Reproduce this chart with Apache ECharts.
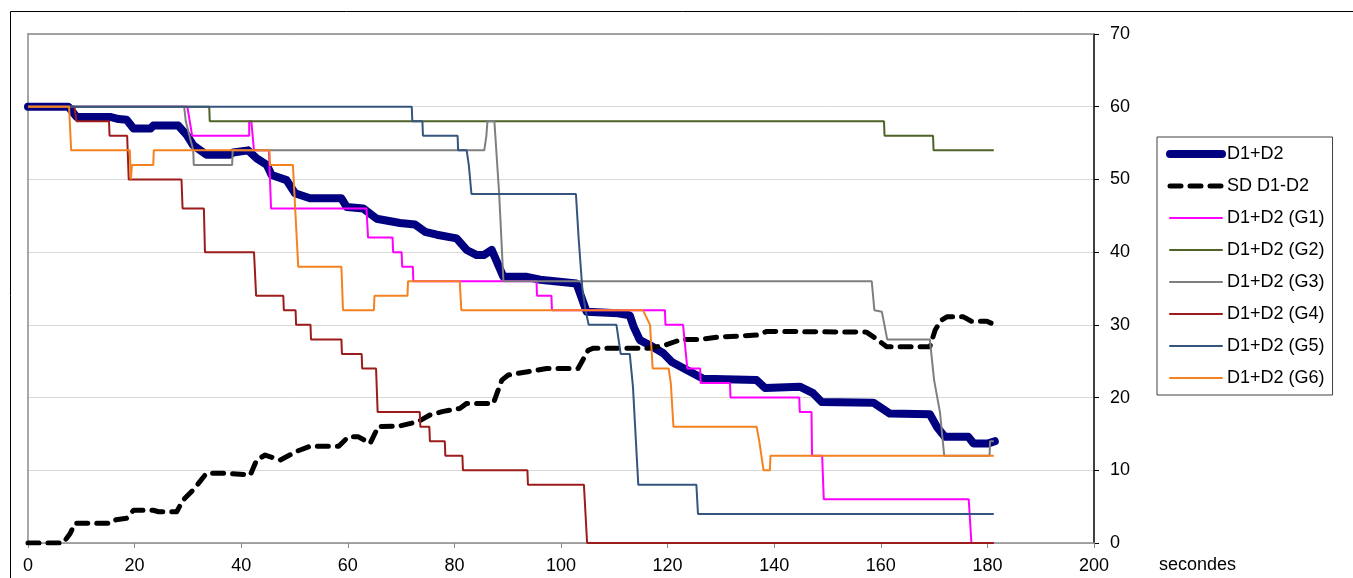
<!DOCTYPE html>
<html>
<head>
<meta charset="utf-8">
<script src="https://cdn.jsdelivr.net/npm/echarts@6/dist/echarts.min.js"></script>
<style>
html,body{margin:0;padding:0;background:#fff;}
#chart{width:1353px;height:578px;}
</style>
</head>
<body>
<div id="chart"></div>
<script>
// ---- Data (x = seconds, y = value) ----
const xTicks = [0, 20, 40, 60, 80, 100, 120, 140, 160, 180, 200];
const yTicks = [0, 10, 20, 30, 40, 50, 60, 70];
const seriesNames = ["D1+D2", "SD D1-D2", "D1+D2 (G1)", "D1+D2 (G2)", "D1+D2 (G3)", "D1+D2 (G4)", "D1+D2 (G5)", "D1+D2 (G6)"];

const d1d2 = [[0,60],[7.6,60],[9.1,58.6],[15.4,58.6],[17,58.3],[18.5,58.2],[19.8,57],[23,57],[23.5,57.4],[28.2,57.4],[29.8,56.1],[31,54.7],[33.5,53.4],[37.9,53.4],[38.5,53.7],[41.3,54],[42.9,52.9],[44.8,52],[45.7,50.6],[48.5,49.9],[50.1,48.1],[52.9,47.4],[58.8,47.4],[59.8,46.2],[62.9,46],[65.4,44.6],[69.8,44],[72.6,43.8],[74.5,42.8],[76.7,42.4],[80.4,41.9],[82.3,40.3],[84.2,39.6],[85.5,39.6],[87,40.3],[89.2,36.6],[93.6,36.6],[96.1,36.2],[102.9,35.7],[104.8,31.8],[110.7,31.6],[112.9,31.3],[113.6,29.8],[114.8,27.9],[116.7,27.2],[119.2,26.1],[120.8,24.9],[123.6,23.8],[126.7,22.6],[136.7,22.4],[138.3,21.3],[144.8,21.5],[147.3,20.6],[148.9,19.4],[158.6,19.3],[161.7,17.8],[169.2,17.7],[170.5,16],[172,14.6],[176.4,14.6],[177.4,13.7],[180.2,13.7],[181.4,14]];

const sdD1D2 = [[0,0],[6.6,0],[7.9,1.3],[8.8,2.7],[15.4,2.7],[16.5,3.2],[18.5,3.4],[19.8,4.5],[23.5,4.5],[24.5,4.3],[27.9,4.3],[29.1,5.9],[31,7.3],[33.5,9.6],[37.3,9.6],[41.7,9.35],[42.9,11.4],[44.5,12.1],[47.3,11.4],[50.4,12.6],[52.9,13.3],[58.3,13.3],[60.1,14.6],[62,14.6],[64.2,13.7],[65.7,16],[69.8,16.1],[73.2,16.7],[75.4,17.6],[77.9,18.1],[81,18.5],[82.3,19.2],[87.3,19.2],[88.9,22.4],[90.1,23.1],[94.2,23.6],[97.3,24],[103.2,24],[105.1,26.5],[106.1,26.8],[116.7,26.8],[119.5,27.2],[122.6,28],[126.1,28],[129.2,28.3],[136.7,28.6],[138.6,29.1],[157.3,29],[158.9,28.2],[161.1,27],[169.2,27],[170.2,29.3],[171.3,30.6],[172.4,31.1],[175.5,31.1],[177,30.5],[179.9,30.5],[181.4,30]];

const g1 = [[0,60],[29.9,60],[30.8,56],[41.5,56],[41.5,58],[41.9,58],[42.4,54],[45.2,54],[45.6,46],[63.5,46],[63.8,42],[68.4,42],[68.5,40],[70.1,40],[70.2,38],[72.2,38],[72.3,36],[95.4,36],[95.5,34],[98.2,34],[98.3,32],[119.5,32],[119.6,30],[122.9,30],[123.7,24],[126.1,24],[126.2,22],[131.7,22],[131.8,20],[144.7,20],[144.8,18],[147,18],[147.1,12],[149,12],[149.3,6],[176.5,6],[177,0],[181.2,0]];

const g2 = [[0,60],[34,60],[34.1,58],[160.6,58],[160.7,56],[169.8,56],[169.9,54],[181.2,54]];

const g3 = [[0,60],[29.3,60],[29.6,58],[31,54],[31.1,52],[38.3,52],[38.4,54],[85.6,54],[86,56],[86.2,58],[87.5,58],[88.4,48],[89.2,36],[158.3,36],[158.8,32],[160.2,31.8],[161.2,28],[169.2,28],[170,22.4],[170.6,20],[171.1,18],[171.9,12],[180.4,12],[180.5,14],[181.2,14]];

const g4 = [[0,60],[8.7,60],[9.1,58],[15.2,58],[15.3,56],[18.6,56],[18.9,50],[28.8,50],[29,46],[33,46],[33.2,40],[42.4,40],[42.8,34],[47.9,34],[48,32],[50.2,32],[50.3,30],[53,30],[53.1,28],[58.8,28],[58.9,26],[62.6,26],[62.7,24],[65.3,24],[65.6,18],[73.5,18],[73.6,16],[75.3,16],[75.4,14],[78.2,14],[78.3,12],[81.5,12],[81.6,10],[93.7,10],[93.8,8],[104.3,8],[104.9,0],[181.2,0]];

const g5 = [[0,60],[72,60],[72.1,58],[74,58],[74.1,56],[80.6,56],[80.7,54],[82.3,54],[82.7,52],[83.2,48],[102.8,48],[103.3,42],[104,35],[104.6,32],[105.2,30],[110.4,30],[111.2,26],[112.9,26],[113.5,21.5],[114.5,8],[125.4,8],[125.7,4],[181.2,4]];

const g6 = [[0,60],[7.7,60],[8.1,54],[19.1,54],[19.3,50],[19.5,52],[23.5,52],[23.6,54],[45.3,54],[45.4,52],[49.7,52],[50.7,38],[58.8,38],[59.1,32],[64.9,32],[65,34],[71.2,34],[71.3,36],[81,36],[81.3,32],[115.4,32],[116.7,30],[117.2,24],[120.2,24],[120.6,22],[121.1,16],[136.7,16],[137.2,14],[138,10],[139.2,10],[139.3,12],[181.2,12]];

const FONT = "'Liberation Sans', Arial, sans-serif";

function thin(name, data, color) {
  return {
    name: name, type: 'line', data: data, symbol: 'none', showSymbol: false,
    lineStyle: { color: color, width: 2 }, itemStyle: { color: color },
    xAxisIndex: 0, yAxisIndex: 0, z: 3
  };
}

const legendWidths = [8, 5, 2, 2, 2, 2, 2, 2];
const legendData = seriesNames.map(function (n, i) {
  const item = { name: n, itemStyle: { opacity: 0 }, lineStyle: { width: legendWidths[i], cap: 'round' } };
  if (i === 1) item.lineStyle.type = [11, 9];
  return item;
});

const chart = echarts.init(document.getElementById('chart'), null, { renderer: 'canvas' });
chart.setOption({
  animation: false,
  backgroundColor: '#ffffff',
  textStyle: { fontFamily: FONT },
  grid: { left: 28, right: 259, top: 34, bottom: 35, containLabel: false },
  graphic: [
    { type: 'rect', left: 8, top: 9, shape: { width: 1400, height: 620 }, style: { fill: 'none', stroke: '#000', lineWidth: 1 }, silent: true, z: 0 },
    { type: 'text', left: 1159, top: 556, style: { text: 'secondes', font: '18px ' + FONT, fill: '#000' } }
  ],
  legend: {
    orient: 'vertical', left: 1157, top: 137,
    padding: [7, 8, 7, 9],
    borderColor: '#404040', borderWidth: 1, borderRadius: 0,
    itemWidth: 52, itemHeight: 14, itemGap: 12,
    textStyle: { fontSize: 18, lineHeight: 20, color: '#000', fontFamily: FONT },
    data: legendData
  },
  xAxis: [{
    type: 'value', min: xTicks[0], max: xTicks[xTicks.length - 1], interval: 20,
    axisLine: { show: true, onZero: false, lineStyle: { color: '#8a8a8a', width: 1.5 } },
    axisTick: { show: true, length: 5, lineStyle: { color: '#8a8a8a' } },
    axisLabel: { fontSize: 18, color: '#000', margin: 14, fontFamily: FONT },
    splitLine: { show: false }
  }, {
    type: 'value', position: 'top', min: 0, max: 200, interval: 20,
    axisLine: { show: true, onZero: false, lineStyle: { color: '#8a8a8a', width: 1.5 } },
    axisTick: { show: false }, axisLabel: { show: false }, splitLine: { show: false }
  }],
  yAxis: [{
    type: 'value', position: 'right', min: yTicks[0], max: yTicks[yTicks.length - 1], interval: 10,
    axisLine: { show: true, onZero: false, lineStyle: { color: '#000', width: 1.5 } },
    axisTick: { show: true, length: 5, lineStyle: { color: '#000' } },
    axisLabel: { fontSize: 18, color: '#000', margin: 16, fontFamily: FONT },
    splitLine: { show: true, lineStyle: { color: '#d9d9d9', width: 1 } }
  }, {
    type: 'value', position: 'left', min: 0, max: 70, interval: 10,
    axisLine: { show: true, onZero: false, lineStyle: { color: '#8a8a8a', width: 1.5 } },
    axisTick: { show: false }, axisLabel: { show: false }, splitLine: { show: false }
  }],
  series: [
    { name: seriesNames[0], type: 'line', data: d1d2, symbol: 'none', showSymbol: false,
      lineStyle: { color: '#000080', width: 8, cap: 'round', join: 'round' }, itemStyle: { color: '#000080' }, z: 2 },
    { name: seriesNames[1], type: 'line', data: sdD1D2, symbol: 'none', showSymbol: false,
      lineStyle: { color: '#000', width: 5, type: [11, 9], cap: 'round', join: 'round' }, itemStyle: { color: '#000' }, z: 2 },
    thin(seriesNames[2], g1, '#FF00FF'),
    thin(seriesNames[3], g2, '#4F6228'),
    thin(seriesNames[4], g3, '#7F7F7F'),
    thin(seriesNames[5], g4, '#9C1C1C'),
    thin(seriesNames[6], g5, '#35557F'),
    thin(seriesNames[7], g6, '#F58220')
  ]
});
</script>
</body>
</html>
